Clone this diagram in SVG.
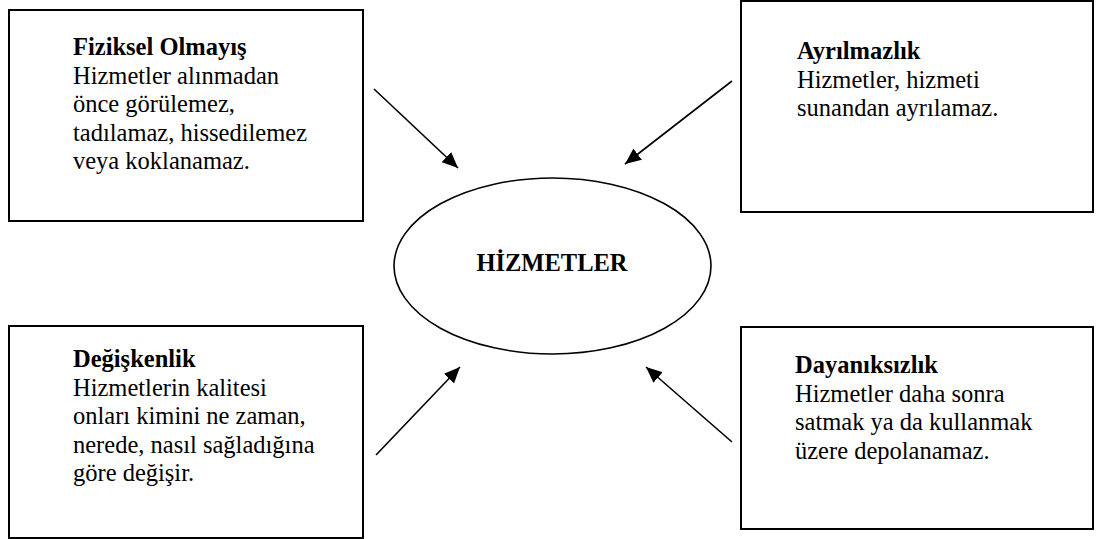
<svg xmlns="http://www.w3.org/2000/svg" width="1098" height="539" viewBox="0 0 1098 539">
  <style>
    .box { fill: #ffffff; stroke: #000000; stroke-width: 2; }
    .hub { fill: #ffffff; stroke: #000000; stroke-width: 1.6; }
    .txt { font-family: "Liberation Serif", "Times New Roman", serif; font-size: 24.5px; fill: #000000; }
    .b { font-weight: bold; }
    .conn { stroke: #000000; stroke-width: 1.6; fill: none; marker-end: url(#head); }
  </style>
  <defs>
    <marker id="head" markerUnits="userSpaceOnUse" markerWidth="18" markerHeight="14" refX="16" refY="7" orient="auto">
      <path d="M0,0 L16,7 L0,14 Z" fill="#000000"/>
    </marker>
  </defs>
  <rect width="1098" height="539" fill="#ffffff"/>

  <!-- four characteristic boxes -->
  <g id="node-fiziksel">
    <rect class="box" x="9" y="10" width="354" height="211"/>
    <text class="txt">
      <tspan class="b" x="73" y="55">Fiziksel Olmayış</tspan>
      <tspan x="73" y="83.5">Hizmetler alınmadan</tspan>
      <tspan x="73" y="112">önce görülemez,</tspan>
      <tspan x="73" y="140.5">tadılamaz, hissedilemez</tspan>
      <tspan x="73" y="169">veya koklanamaz.</tspan>
    </text>
  </g>

  <g id="node-ayrilmazlik">
    <rect class="box" x="741" y="1" width="352" height="211"/>
    <text class="txt">
      <tspan class="b" x="797" y="59">Ayrılmazlık</tspan>
      <tspan x="797" y="87.5">Hizmetler, hizmeti</tspan>
      <tspan x="797" y="116">sunandan ayrılamaz.</tspan>
    </text>
  </g>

  <g id="node-degiskenlik">
    <rect class="box" x="9" y="326" width="354" height="212"/>
    <text class="txt">
      <tspan class="b" x="73" y="367">Değişkenlik</tspan>
      <tspan x="73" y="395.5">Hizmetlerin kalitesi</tspan>
      <tspan x="73" y="424">onları kimini ne zaman,</tspan>
      <tspan x="73" y="452.5">nerede, nasıl sağladığına</tspan>
      <tspan x="73" y="481">göre değişir.</tspan>
    </text>
  </g>

  <g id="node-dayaniksizlik">
    <rect class="box" x="741" y="327" width="352" height="202"/>
    <text class="txt">
      <tspan class="b" x="795" y="373">Dayanıksızlık</tspan>
      <tspan x="795" y="401.5">Hizmetler daha sonra</tspan>
      <tspan x="795" y="430">satmak ya da kullanmak</tspan>
      <tspan x="795" y="458.5">üzere depolanamaz.</tspan>
    </text>
  </g>

  <!-- central ellipse -->
  <g id="node-hizmetler">
    <ellipse class="hub" cx="552.5" cy="266" rx="158.5" ry="88"/>
    <text class="txt b" x="552" y="271" text-anchor="middle">HİZMETLER</text>
  </g>

  <!-- arrows pointing to the centre -->
  <g id="connectors">
    <line class="conn" x1="374" y1="89" x2="458" y2="168"/>
    <line class="conn" x1="732" y1="81" x2="625" y2="164"/>
    <line class="conn" x1="376" y1="455" x2="460" y2="367"/>
    <line class="conn" x1="732" y1="442" x2="646" y2="367"/>
  </g>
</svg>
